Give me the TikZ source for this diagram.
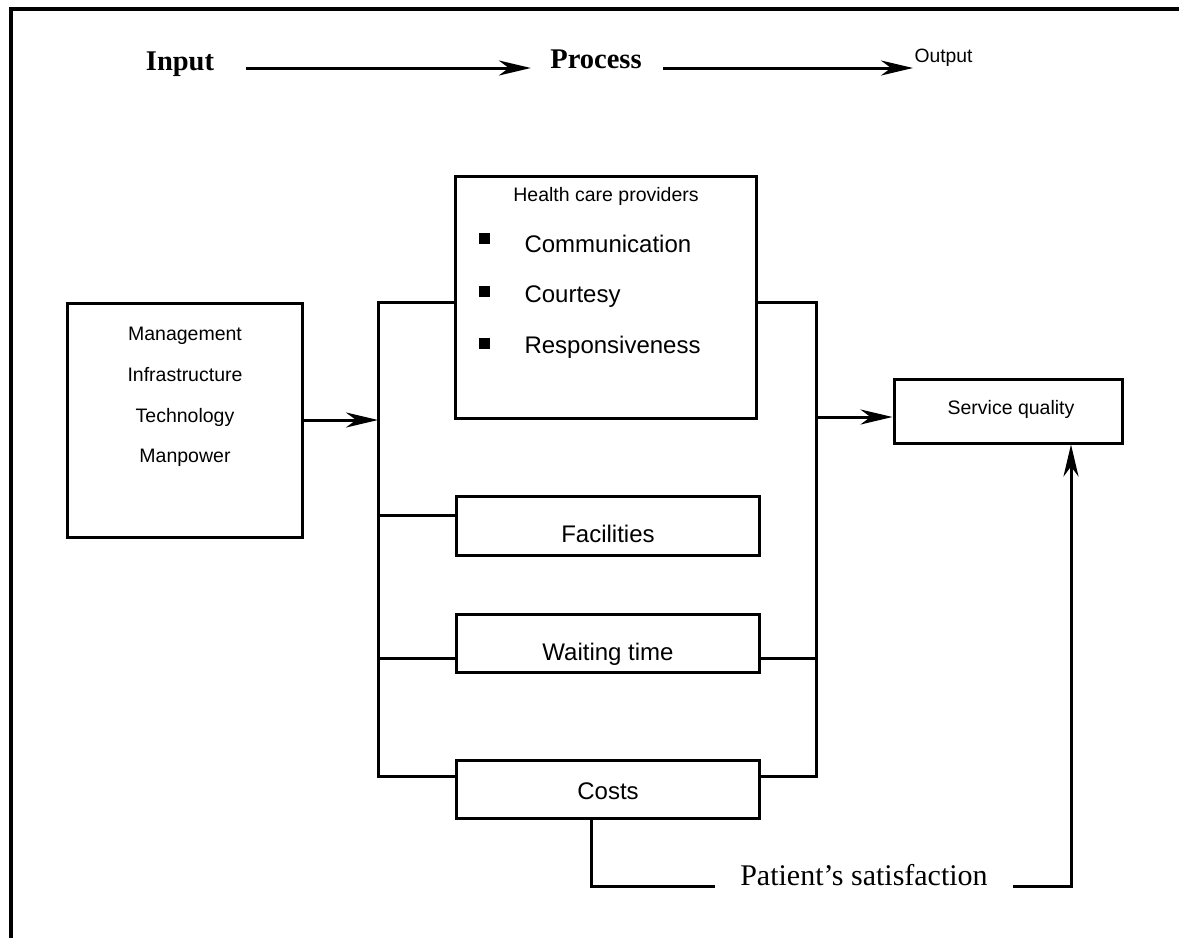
\documentclass[tikz,border=0pt]{standalone}
\usepackage{fontspec}
\setmainfont{Liberation Serif}
\newfontfamily\arial{Liberation Sans}
\usetikzlibrary{arrows.meta}

\begin{document}
\begin{tikzpicture}[x=1pt,y=-1pt,
  line width=3pt,
  box/.style={draw, rectangle, inner sep=0pt},
  arr/.style={-{Stealth[length=32pt,width=15pt,inset=10pt]}},
  small/.style={font=\arial\fontsize{19.5}{22}\selectfont, inner sep=0pt, anchor=base},
  item/.style={font=\arial\fontsize{24}{28}\selectfont, inner sep=0pt, anchor=base},
  head/.style={font=\bfseries\fontsize{28.5}{32}\selectfont, inner sep=0pt, anchor=base},
  bullet/.style={fill=black, draw=none, rectangle, minimum size=11pt, inner sep=0pt}]

\useasboundingbox (0,0) rectangle (1179,938);

% page frame (top and left edges only)
\draw[line width=3.2pt] (1179,9) -- (11,9) -- (11,938);

% header: Input -> Process -> Output
\node[head] (intext) at (180,70) {Input};
\node[head] (proctext) at (596,68) {Process};
\node[font=\arial\fontsize{19.3}{22}\selectfont, inner sep=0pt, anchor=base west] (outtext) at (913,62) {Output};
\draw[arr] ([xshift=30pt,yshift=2pt]intext.base east) -- ([xshift=-18pt]proctext.base west);
\draw[arr] ([xshift=20pt]proctext.base east) -- ([yshift=-6pt]outtext.base west);

% boxes
\node[box, minimum width=235pt, minimum height=234pt] (inbox) at (184.5,420) {};
\node[box, minimum width=301pt, minimum height=242pt] (hcp) at (605.5,297) {};
\node[box, minimum width=303pt, minimum height=59pt] (fac) at (607.5,525.5) {};
\node[box, minimum width=303pt, minimum height=58pt] (wait) at (607.5,643) {};
\node[box, minimum width=303pt, minimum height=58pt] (cost) at (607.5,789) {};
\node[box, minimum width=228pt, minimum height=64pt] (sq) at (1008,411) {};

% input box text
\node[small] (t1) at (185,340) {Management};
\node[small] (t2) at (185,381) {Infrastructure};
\node[small] (t3) at (185,422) {Technology};
\node[small] (t4) at (185,462) {Manpower};

% health care providers box text
\node[small] (hp) at (606,201) {Health care providers};
\node[bullet] (b1) at (484,238) {};
\node[bullet] (b2) at (484,291) {};
\node[bullet] (b3) at (484,343) {};
\node[item, anchor=base west] (i1) at (523,252) {Communication};
\node[item, anchor=base west] (i2) at (523,302) {Courtesy};
\node[item, anchor=base west] (i3) at (523,353) {Responsiveness};

% other box labels
\node[item] (ft) at (608,542) {Facilities};
\node[item] (wt) at (608,660) {Waiting time};
\node[item] (ct) at (608,799) {Costs};
\node[small] (st) at (1011,414) {Service quality};

% bracket joints
\coordinate (L) at (378,420);
\coordinate (Ltop) at (378,302);
\coordinate (Lfac) at (378,515);
\coordinate (Lwait) at (378,658);
\coordinate (Lbot) at (378,776);
\coordinate (R) at (816,417);
\coordinate (Rtop) at (816,302);
\coordinate (Rbot) at (816,776);

% left bracket
\draw (hcp.west |- Ltop) -- (Ltop) -- (Lbot) -- (cost.west |- Lbot);
\draw (Lfac) -- (fac.west |- Lfac);
\draw (Lwait) -- (wait.west |- Lwait);

% right bracket
\draw (hcp.east |- Rtop) -- (Rtop) -- (Rbot) -- (cost.east |- Rbot);
\draw (wait.east |- Lwait) -- (Rtop |- Lwait);

% flow arrows
\draw[arr] (inbox.east |- L) -- (L);
\draw[arr] (R) -- (sq.west |- R);

% feedback from costs to service quality
\node[font=\fontsize{30}{34}\selectfont, inner xsep=24pt, inner ysep=0pt, anchor=base] (ps) at (864,885) {Patient’s satisfaction};
\coordinate (B1) at (591,886);
\coordinate (B2) at (1071,886);
\draw (B1 |- cost.south) -- (B1) -- (ps.west |- B1);
\draw[arr] (ps.east |- B2) -- (B2) -- (B2 |- sq.south);

\end{tikzpicture}
\end{document}
